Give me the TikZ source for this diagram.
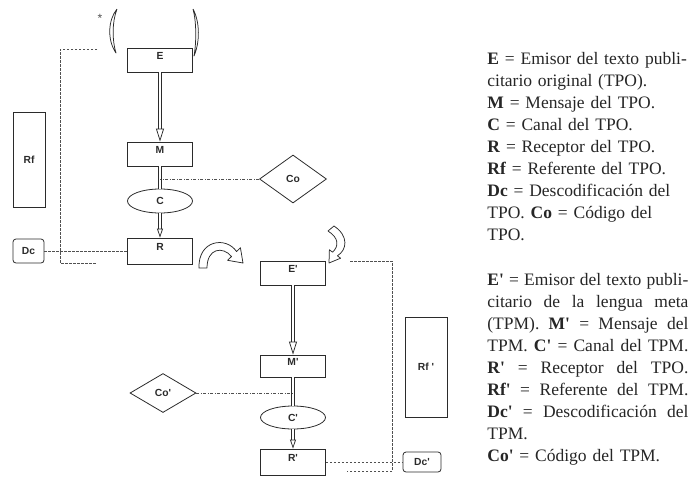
\documentclass[tikz,border=0pt]{standalone}
\usepackage{fontspec}
\setmainfont{Liberation Serif}
\newfontfamily\lblfont{Liberation Sans}
\usetikzlibrary{positioning,arrows.meta,shapes.geometric}
\definecolor{tpInk}{HTML}{2B2B2B}
\definecolor{tpGray}{HTML}{505050}
\newcommand{\apo}{\textquotesingle}
\newcommand{\spread}[1]{\leavevmode\hbox to 201pt{\spaceskip=.25em plus 1fil\relax #1}}

\begin{document}
\begin{tikzpicture}[x=1pt,y=-1pt,line width=0.8pt,draw=tpInk,
        lbl/.style={font=\lblfont\bfseries\fontsize{10.3}{11}\selectfont,text=tpInk},
        box/.style={lbl,draw=tpInk,minimum width=65pt,minimum height=24pt,inner sep=0pt,
                    text height=7.5pt,text depth=9pt},
        tallbox/.style={lbl,draw=tpInk,inner sep=0pt},
        dcbox/.style={lbl,draw=tpInk,rounded corners=3pt,inner sep=0pt},
        chan/.style={lbl,draw=tpInk,ellipse,minimum width=65pt,minimum height=24pt,inner sep=0pt},
        code/.style={lbl,draw=tpInk,diamond,inner sep=0pt},
        dbl/.style={draw=tpInk,line width=0.75pt,double=white,double distance=2.2pt},
        dashdot/.style={draw=tpGray,line width=0.75pt,dash pattern=on 3pt off 1.5pt on 1pt off 1.5pt},
        dashline/.style={draw=tpGray,line width=0.85pt,dash pattern=on 2.5pt off 1.5pt},
        hollow/.style={draw=tpInk,line width=0.75pt,fill=white,line join=round},
        legend/.style={font=\fontsize{17.5}{22}\selectfont,text=black!85,text width=201pt,
                       align=left,inner sep=0pt,anchor=north west}]
  \useasboundingbox (0,0) rectangle (691,477);

  % original text (TPO)
  \node[box] (E) at (160,60) {E};
  \node[box] (M) at (160,154) {M};
  \node[chan] (C) at (160,201) {C};
  \node[box,minimum height=26pt] (R) at (160,251) {R};
  \node[code,minimum width=67pt,minimum height=48pt] (Co) at (293,179) {Co};
  \node[dcbox,minimum width=31pt,minimum height=24pt] (Dc) at (28.5,251) {Dc};
  \node[tallbox,minimum width=32pt,minimum height=95pt] (Rf) at (29,159.5) {Rf};
  \draw[dbl,-{Triangle[open,length=13pt,width=8pt]}] (E) -- (M);
  \draw[dbl] (M) -- (C);
  \draw[dbl,-{Triangle[open,length=9pt,width=6pt]}] (C) -- (R);
  \draw[dashdot] (Co.west) -- (Co.west -| M);
  \draw[dashline] (Dc.east) -- (Dc.east -| R.west);
  \draw[dashline] (97,49) -- (60,49) -- (60,263) -- (97,263);

  % target text (TPM)
  \node[box] (Eq) at (293,273) {E\apo};
  \node[box,minimum height=22pt] (Mq) at (293,366) {M\apo};
  \node[chan,minimum height=23pt] (Cq) at (293,417.5) {C\apo};
  \node[box,minimum height=26pt] (Rq) at (293,462) {R\apo};
  \node[code,minimum width=66pt,minimum height=39pt] (Coq) at (163,393) {Co\apo};
  \node[dcbox,minimum width=38pt,minimum height=20pt] (Dcq) at (422,462) {Dc\apo};
  \node[tallbox,minimum width=42pt,minimum height=100pt] (Rfq) at (426,367) {Rf \apo};
  \draw[dbl,-{Triangle[open,length=13pt,width=8pt]}] (Eq) -- (Mq);
  \draw[dbl] (Mq) -- (Cq);
  \draw[dbl,-{Triangle[open,length=9pt,width=6pt]}] (Cq) -- (Rq);
  \draw[dashdot] (Coq.east) -- (Coq.east -| Mq);
  \draw[dashline] (Rq.east) -- (Rq.east -| Dcq.west);
  \draw[dashline] (350,261) -- (392,261) -- (392,471) -- (347,471);

  % brackets, star and bent arrows
  \node[text=tpGray,font=\lblfont\fontsize{12}{12}\selectfont] (star) at (100,18) {*};
  \draw[hollow] (117,9) .. controls (108,20) and (107,40) .. (116,53)
                .. controls (112,40) and (112,22) .. (117,9);
  \draw[hollow] (193,9) .. controls (200,22) and (200,42) .. (194,56)
                .. controls (196.5,42) and (196.5,22) .. (193,9);
  \draw[hollow] (199,268) .. controls (198,240) and (226,236) .. (236.5,251.5)
                -- (240.4,247.7) -- (243,263) -- (227.6,260.3) -- (231.5,256.5)
                .. controls (223,246) and (207,248) .. (207,268) -- cycle;
  \draw[hollow] (334,226) .. controls (349,236) and (347,250) .. (337.4,255.8)
                -- (340.6,258.2) -- (329,263) -- (329.4,249.8) -- (332.6,252.2)
                .. controls (339,246) and (339,238) .. (328,231) -- cycle;

  % legend
  \node[legend] (keyTPO) at (487,52) {%
    \textbf{E} = Emisor del texto publi-\\
    citario original (TPO).\\
    \textbf{M} = Mensaje del TPO.\\
    \textbf{C} = Canal del TPO.\\
    \textbf{R} = Receptor del TPO.\\
    \textbf{Rf} = Referente del TPO.\\
    \textbf{Dc} = Descodificación del\\
    TPO. \textbf{Co} = Código del\\
    TPO.};
  \node[legend] (keyTPM) at (487,273) {%
    \spread{\textbf{E\apo} = Emisor del texto publi-}\\
    \spread{citario de la lengua meta}\\
    \spread{(TPM). \textbf{M\apo} = Mensaje del}\\
    \spread{TPM. \textbf{C\apo} = Canal del TPM.}\\
    \spread{\textbf{R\apo} = Receptor del TPO.}\\
    \spread{\textbf{Rf\apo} = Referente del TPM.}\\
    \spread{\textbf{Dc\apo} = Descodificación del}\\
    TPM.\\
    \textbf{Co\apo} = Código del TPM.};
\end{tikzpicture}
\end{document}
